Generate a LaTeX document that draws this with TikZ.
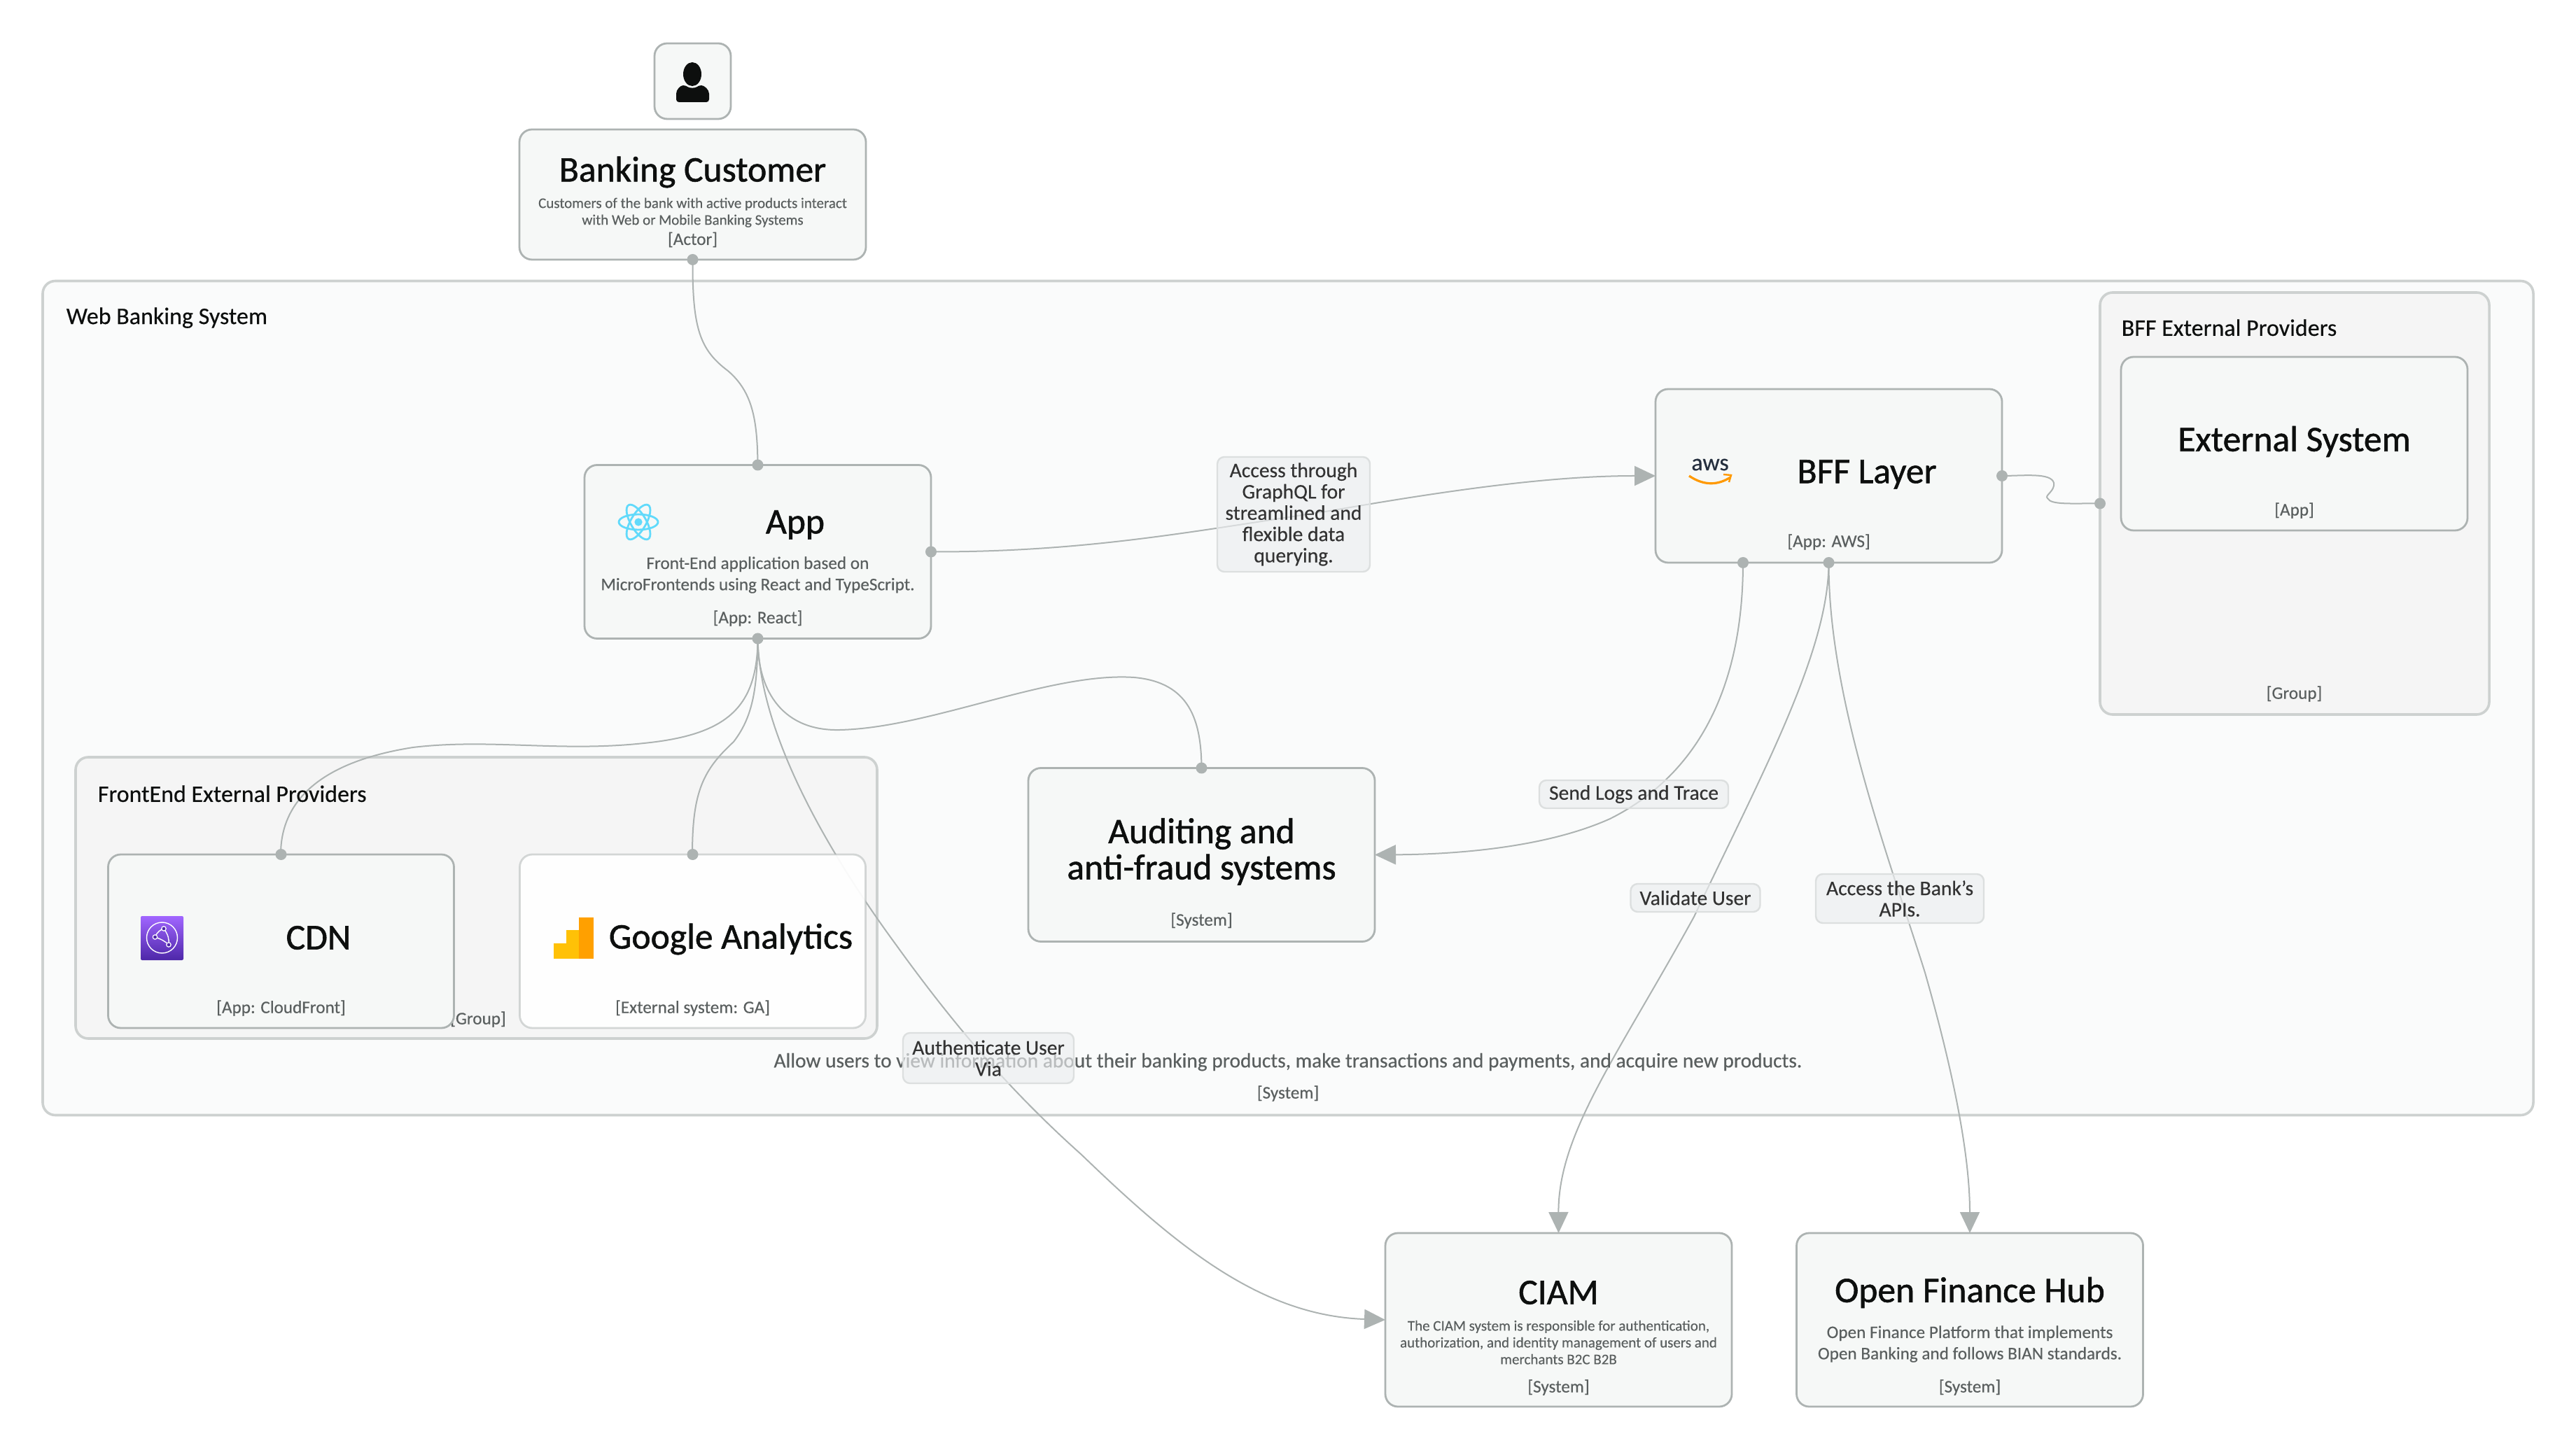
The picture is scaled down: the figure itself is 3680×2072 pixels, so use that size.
\documentclass[tikz,border=0pt]{standalone}
\usepackage{fontspec}
\setmainfont[FakeBold=0.35]{Carlito}
\newfontfamily\titlefont[FakeBold=1.1]{Carlito}
\usetikzlibrary{arrows.meta,shapes.geometric}

\definecolor{edgegray}{HTML}{ADB3B2}
\definecolor{boxfill}{HTML}{F6F8F7}
\definecolor{outerfill}{HTML}{FAFBFB}
\definecolor{outerline}{HTML}{CDD1D0}
\definecolor{groupfill}{HTML}{F5F5F5}
\definecolor{labelfill}{HTML}{ECEEF0}
\definecolor{labelline}{HTML}{DCDFDF}
\definecolor{titletext}{HTML}{0D0F0E}
\definecolor{desctext}{HTML}{5A5F5F}
\definecolor{reactblue}{HTML}{61DAFB}
\definecolor{awsdark}{HTML}{252F3E}
\definecolor{awsorange}{HTML}{FF9900}
\definecolor{cfdark}{HTML}{4D27A8}
\definecolor{cflight}{HTML}{A166FF}
\definecolor{gaorange}{HTML}{FFA000}
\definecolor{gayellow}{HTML}{FFC107}

\tikzset{
	sysbox/.style={draw=edgegray,line width=.7pt,fill=boxfill,rounded corners=4.5pt,minimum width=123.75pt,minimum height=62pt,inner sep=0pt,outer sep=0pt},
	groupbox/.style={draw=outerline,line width=.9pt,fill=groupfill,rounded corners=4.5pt,inner sep=0pt,outer sep=0pt},
	edge/.style={draw=edgegray,line width=0.5pt},
	arrowedge/.style={edge,-{Triangle[length=7.5pt,width=7pt]}},
	title/.style={text=titletext,font=\titlefont\fontsize{12.9}{12.9}\selectfont,align=center,inner sep=0pt,yshift=-.5pt},
	grouptitle/.style={text=titletext,font=\fontsize{8.5}{10}\selectfont,anchor=west,inner sep=0pt,yshift=-.3pt},
	desc/.style={text=desctext,font=\fontsize{6.3}{7.6}\selectfont,align=center,inner sep=0pt,yshift=-.4pt},
	smalldesc/.style={text=desctext,font=\fontsize{5.25}{6}\selectfont,align=center,inner sep=0pt,yshift=-.3pt},
	tech/.style={text=desctext,font=\fontsize{6.3}{7}\selectfont,inner sep=0pt,yshift=-.4pt},
	linklabel/.style={draw=labelline,line width=.6pt,fill=labelfill,fill opacity=.65,text opacity=1,text=black!80,rounded corners=2.5pt,font=\fontsize{7.4}{7.6}\selectfont,align=center,inner sep=0pt},
}

\begin{document}
\begin{tikzpicture}[x=0.25pt,y=-0.25pt]

\useasboundingbox (0,0) rectangle (3680,2072);

% containers
\node[groupbox,fill=outerfill,minimum width=889.5pt,minimum height=298pt] (web) at (1840,997.5) {};
\node[groupbox,minimum width=139pt,minimum height=150.75pt] (bffgroup) at (3278,719.5) {};
\node[groupbox,minimum width=286.25pt,minimum height=100.5pt] (fegroup) at (680.5,1283) {};
\node[tech] (fegrouptech) at (683,1455) {[Group]};

\node[sysbox,minimum height=27pt,minimum width=27.25pt] (usericon) at (989.5,116) {};
\node[sysbox,minimum height=46.5pt] (customer) at (989.5,278) {};
\node[sysbox] (app) at (1082.5,788.5) {};
\node[sysbox] (bff) at (2612.5,680) {};
\node[sysbox] (audit) at (1716.5,1221.5) {};
\node[sysbox] (ciam) at (2226.5,1886) {};
\node[sysbox] (hub) at (2814,1886) {};

\coordinate (bfflog) at (2490,804);

% connectors
\draw[edge] (customer.south) .. controls (989,470) and (1000,500) .. (1040,530) .. controls (1075,560) and (1082,600) .. (app.north);
\draw[edge] (app.south) .. controls (1082,1010) and (1040,1050) .. (920,1062) .. controls (800,1075) and (700,1055) .. (590,1068) .. controls (450,1090) and (401,1150) .. (401,1221);
\draw[edge] (app.south) .. controls (1082,985) and (1075,1025) .. (1048,1060) .. controls (1005,1100) and (989,1130) .. (989,1221);
\draw[edge] (app.south) .. controls (1082,990) and (1120,1045) .. (1200,1043) .. controls (1330,1040) and (1500,960) .. (1620,968) .. controls (1700,975) and (1716,1030) .. (audit.north);
\draw[arrowedge] (app.south) .. controls (1085,1040) and (1170,1200) .. (1280,1350) .. controls (1370,1475) and (1450,1565) .. (1545,1650) .. controls (1680,1780) and (1800,1880) .. (ciam.west);
\draw[arrowedge] (app.east) .. controls (1550,789) and (1700,760) .. (1900,730) .. controls (2100,695) and (2230,680) .. (bff.west);
\draw[arrowedge] (bfflog) .. controls (2490,960) and (2440,1100) .. (2300,1170) .. controls (2200,1215) and (2060,1221) .. (audit.east);
\draw[arrowedge] (bff.south) .. controls (2612,930) and (2520,1100) .. (2420,1310) .. controls (2310,1510) and (2226,1620) .. (ciam.north);
\draw[arrowedge] (bff.south) .. controls (2612,1000) and (2700,1230) .. (2750,1390) .. controls (2790,1530) and (2814,1650) .. (hub.north);
\draw[edge] (bff.east) .. controls (2890,680) and (2930,675) .. (2934,690) .. controls (2936,702) and (2920,708) .. (2925,712) .. controls (2930,722) and (2960,719) .. (bffgroup.west);

% boxes over the connectors
\node[sysbox,fill opacity=.93,draw opacity=.5,fill=white,minimum width=123.5pt] (ga) at (989.5,1345) {};
\node[sysbox,minimum width=123.5pt] (cdn) at (401.5,1345) {};
\node[sysbox] (external) at (3277.5,634) {};

\foreach \d in {customer.south,app.north,app.south,app.east,bff.east,bff.south,bfflog,bffgroup.west,audit.north,cdn.north,ga.north}{
	\fill[edgegray] (\d) circle (2pt);
}

% icons
\fill[titletext] (989,106) ellipse (13 and 17);
\fill[titletext,rounded corners=1pt] (966,146) -- (966,138) .. controls (966,128) and (972,122) .. (980,122) .. controls (985,126) and (993,126) .. (998,122) .. controls (1006,122) and (1013,128) .. (1013,138) -- (1013,146) -- cycle;

\foreach \a in {0,60,120}{
	\draw[reactblue,line width=.7pt,rotate around={\a:(912,746)}] (912,746) ellipse (28 and 11);
}
\fill[reactblue] (912,746) circle (1.4pt);

\node[text=awsdark,font=\fontsize{8.5}{9}\selectfont,inner sep=0pt] (awslogo) at (2443,664) {aws};
\draw[awsorange,line width=.8pt] (2413,680) .. controls (2435,695) and (2455,693) .. (2472,682);
\draw[awsorange,line width=.6pt] (2462,678) -- (2473,679) -- (2470,689);

\shade[bottom color=cfdark,top color=cflight,rounded corners=.5pt] (201,1309) rectangle (262,1372);
\draw[white,line width=.35pt] (231.5,1340) circle (22);
\draw[white,line width=.35pt] (221.5,1339) .. controls (224,1332) and (230,1328) .. (234,1327);
\draw[white,line width=.35pt] (221.5,1339) .. controls (230,1342) and (236,1345) .. (241,1350);
\draw[white,line width=.35pt] (234,1327) .. controls (240,1335) and (242,1342) .. (241,1350);
\foreach \p in {(234,1327),(221.5,1339),(241,1350)}{
	\filldraw[fill=cfdark,draw=white,line width=.3pt] \p circle (.8pt);
}

\fill[gayellow] (791,1348) rectangle (827,1370);
\fill[gayellow] (809,1329) rectangle (827,1370);
\fill[gaorange] (827,1311) rectangle (848,1370);

% texts
\node[grouptitle] (webtitle) at (94,453) {Web Banking System};
\node[grouptitle] (bffgrouptitle) at (3030,467) {BFF External Providers};
\node[grouptitle] (fegrouptitle) at (139,1133) {FrontEnd External Providers};

\node[title] (customertitle) at (989.5,244) {Banking Customer};
\node[smalldesc] (customerdesc) at (989.5,302.5) {Customers of the bank with active products interact\\with Web or Mobile Banking Systems};
\node[tech] (customertech) at (989.5,341) {[Actor]};

\node[title] (apptitle) at (1136,748) {App};
\node[desc] (appdesc) at (1082.5,820) {Front-End application based on\\MicroFrontends using React and TypeScript.};
\node[tech] (apptech) at (1082.5,882) {[App: React]};

\node[title] (bfftitle) at (2667,676) {BFF Layer};
\node[tech] (bfftech) at (2612.5,773) {[App: AWS]};

\node[title] (externaltitle) at (3277.5,629) {External System};
\node[tech] (externaltech) at (3277.5,728) {[App]};
\node[tech] (bffgrouptech) at (3277.5,990) {[Group]};

\node[title] (cdntitle) at (455,1338) {CDN};
\node[tech] (cdntech) at (401.5,1439) {[App: CloudFront]};
\node[title] (gatitle) at (1044,1340) {Google Analytics};
\node[tech] (gatech) at (989.5,1439) {[External system: GA]};

\node[title] (audittitle) at (1716.5,1215) {Auditing and\\anti-fraud systems};
\node[tech] (audittech) at (1716.5,1314) {[System]};

\node[desc,font=\fontsize{7.35}{8}\selectfont] (webdesc) at (1840,1516) {Allow users to view information about their banking products, make transactions and payments, and acquire new products.};
\node[tech] (webtech) at (1840,1561) {[System]};

\node[title] (ciamtitle) at (2226.5,1845) {CIAM};
\node[smalldesc] (ciamdesc) at (2226.5,1917) {The CIAM system is responsible for authentication,\\authorization, and identity management of users and\\merchants B2C B2B};
\node[tech] (ciamtech) at (2226.5,1981) {[System]};

\node[title] (hubtitle) at (2814,1845) {Open Finance Hub};
\node[desc] (hubdesc) at (2814,1919) {Open Finance Platform that implements\\Open Banking and follows BIAN standards.};
\node[tech] (hubtech) at (2814,1981) {[System]};

% link labels
\node[linklabel,minimum width=54.5pt,minimum height=41pt] (graphqllabel) at (1848,735) {Access through\\GraphQL for\\streamlined and\\flexible data\\querying.};
\node[linklabel,minimum width=67.5pt,minimum height=10pt] (logslabel) at (2334,1135) {Send Logs and Trace};
\node[linklabel,minimum width=46.25pt,minimum height=10pt] (validatelabel) at (2422,1283) {Validate User};
\node[linklabel,minimum width=60pt,minimum height=17.5pt] (apislabel) at (2714,1284) {Access the Bank's\\APIs.};
\node[linklabel,minimum width=61pt,minimum height=18pt] (authlabel) at (1412,1512) {Authenticate User\\Via};

\end{tikzpicture}
\end{document}
